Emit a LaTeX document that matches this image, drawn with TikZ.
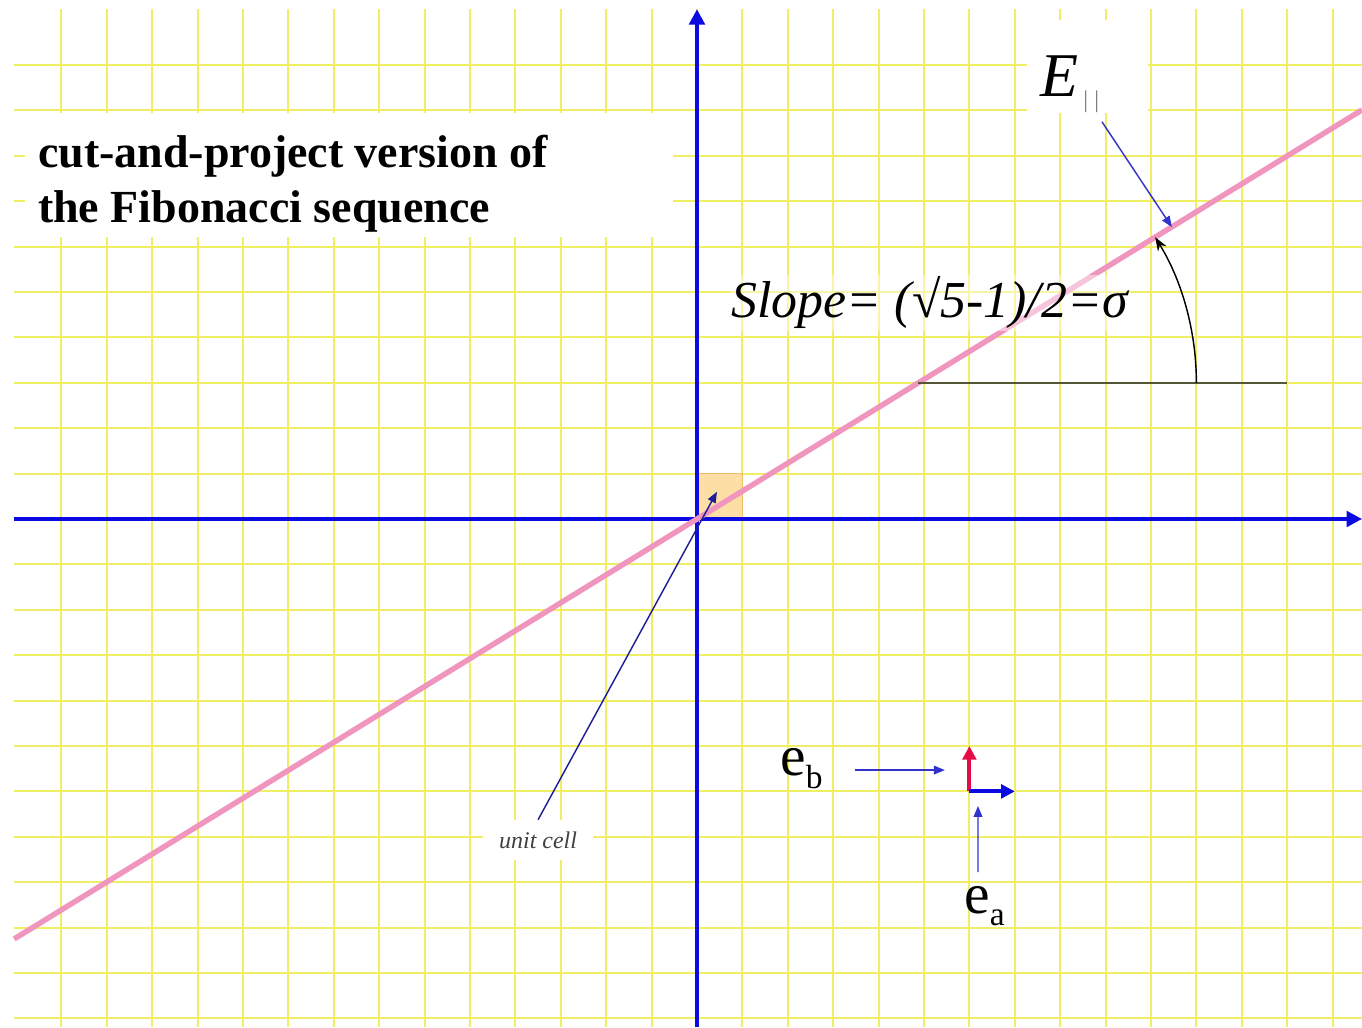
\documentclass[tikz,border=0pt]{standalone}
\usepackage{fontspec}
\setmainfont{Liberation Serif}
\usetikzlibrary{arrows.meta,calc}
\definecolor{gYel}   {RGB}{240,238,100}
\definecolor{aBlue}  {RGB}{ 10, 10,225}
\definecolor{nBlue}  {RGB}{ 50, 50,205}
\definecolor{cBlue}  {RGB}{ 30, 30,150}
\definecolor{ePink}  {RGB}{240,150,190}
\definecolor{bRed}   {RGB}{230, 10, 70}
\definecolor{sOlive} {RGB}{ 85, 85, 55}
\definecolor{cFill}  {RGB}{253,222,165}
\definecolor{cDraw}  {RGB}{240,188,100}
\definecolor{barGray}{RGB}{120,120,120}

\begin{document}
\begin{tikzpicture}

% ---------------------------------------------------------------- styles
\tikzset{
  gridln/.style   = {draw=gYel, line width=1.2pt},
  axis/.style     = {draw=aBlue, line width=2.6pt,
                     -{Triangle[length=3.4mm,width=3.4mm]}},
  epar/.style     = {draw=ePink, line width=3.4pt},
  note/.style     = {draw=nBlue, line width=0.9pt,
                     -{Triangle[length=2.4mm,width=1.9mm]}},
  basis/.style    = {line width=2.6pt, -{Triangle[length=3mm,width=3mm]}},
  titletxt/.style = {font=\fontsize{28.8}{34.5}\selectfont\bfseries,
                     align=left, inner sep=0pt},
  slopetxt/.style = {font=\fontsize{32.5}{32.5}\selectfont\itshape,
                     fill=white, fill opacity=0.45, text opacity=1,
                     inner sep=1pt},
  celltxt/.style  = {font=\fontsize{15}{15}\selectfont\itshape,
                     text=black!75, fill=white,
                     minimum width=2.42cm, minimum height=0.88cm},
  etxt/.style     = {font=\fontsize{36}{36}\selectfont, inner sep=0pt},
}

\useasboundingbox (-15.352,-11.19) rectangle (14.648,11.432);

% ================================================================ grid
\foreach \k in {-11,...,10}
  \draw[gridln] (-15.05,\k) -- (14.648,\k);
\foreach \k in {-14,...,14}
  \draw[gridln] (\k,-11.19) -- (\k,11.23);

% white patches behind the big labels
\fill[white] (-14.8,6.21) rectangle (-0.53,8.94);
\fill[white] (7.27,8.94) rectangle (9.93,11.0);

% ================================================================ unit cell
\filldraw[fill=cFill, draw=cDraw, line width=0.8pt] (0,0) rectangle (1,1);

% ================================================================ axes
\draw[axis] (-15.05,0) -- (14.648,0);
\draw[axis] (0,-11.19) -- (0,11.23);

% ================================================================ the line E
\coordinate (eleft)  at (-15.04,-9.25);
\coordinate (eright) at (14.648,9.01);
\draw[epar] (eleft) -- (eright);

% slope angle
\coordinate (sorg)   at (4.878,3);
\coordinate (send)   at (13,3);
\coordinate (sarc)   at (11,3);
\draw[draw=sOlive, line width=1.3pt] (sorg) -- (send);
\draw[black, line width=0.9pt, -{Stealth[length=3mm,width=2.2mm]}]
  (sarc) arc[start angle=0, end angle=31.6, radius=6.12cm];

% ================================================================ labels
\node[titletxt, anchor=base west] (title) at (-14.52,6.54)
  {cut-and-project version of\\the Fibonacci sequence};

\node[slopetxt, anchor=base west] (slope) at (0.72,4.43)
  {Slope= (√5-1)/2=σ};

\node[anchor=base west, inner sep=0pt,
      font=\fontsize{39}{39}\selectfont\itshape] (elab) at (7.56,9.30)
  {E\hspace{3pt}\raisebox{-7pt}{\fontsize{15}{15}\selectfont\upshape\textcolor{barGray}{|\hspace{4pt}|}}};
\coordinate (efoot) at (10.46,6.43);
\draw[note] ($(elab.base west)+(1.36,-0.55)$) -- (efoot);

\node[celltxt] (ucell) at (-3.5,-7.07) {unit cell};
\coordinate (cellpt) at (0.44,0.6);
\draw[note, draw=cBlue] (ucell.north) -- (cellpt);

% ================================================================ basis
\draw[basis, draw=bRed]  (6,-6) -- (6,-5);
\draw[basis, draw=aBlue] (6,-6) -- (7,-6);

\node[etxt, anchor=base west] (eb) at (1.83,-5.66)
  {e\raisebox{-8pt}{\fontsize{21}{21}\selectfont b}};
\coordinate (ebtip) at (5.46,-5.53);
\draw[note] ($(eb.base west)+(1.65,0.13)$) -- (ebtip);

\node[etxt, anchor=base west] (ea) at (5.88,-8.68)
  {e\raisebox{-8pt}{\fontsize{21}{21}\selectfont a}};
\coordinate (eatip) at (6.19,-6.32);
\draw[note] ($(ea.base west)+(0.31,0.9)$) -- (eatip);

\end{tikzpicture}
\end{document}
